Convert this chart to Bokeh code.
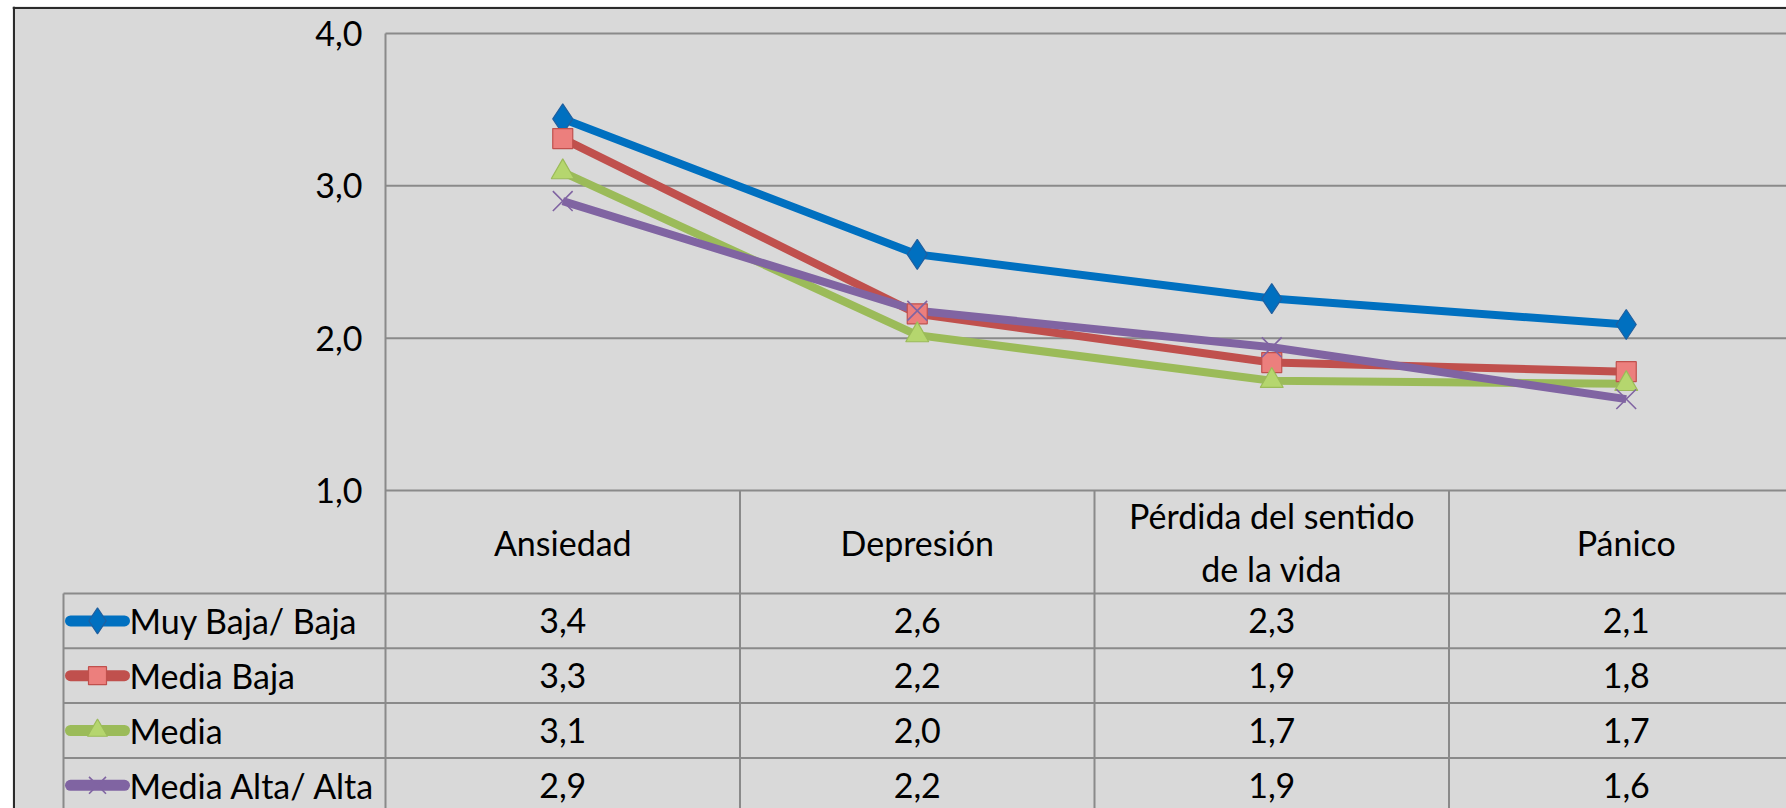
from bokeh.plotting import figure
from bokeh.models import Span
from bokeh.core.properties import value
from bokeh.embed import file_html
from bokeh.resources import INLINE

# ---------------- data ----------------
categories = ["Ansiedad", "Depresión", "Pérdida del sentido\nde la vida", "Pánico"]
series_names = ["Muy Baja/ Baja", "Media Baja", "Media", "Media Alta/ Alta"]
muy_baja_baja = [3.44, 2.55, 2.26, 2.09]
media_baja = [3.31, 2.16, 1.84, 1.78]
media = [3.09, 2.02, 1.72, 1.70]
media_alta_alta = [2.90, 2.18, 1.94, 1.60]
table_muy_baja_baja = ["3,4", "2,6", "2,3", "2,1"]
table_media_baja = ["3,3", "2,2", "1,9", "1,8"]
table_media = ["3,1", "2,0", "1,7", "1,7"]
table_media_alta_alta = ["2,9", "2,2", "1,9", "1,6"]
y_ticks = [1, 2, 3, 4]
y_tick_labels = ["1,0", "2,0", "3,0", "4,0"]

series_values = [muy_baja_baja, media_baja, media, media_alta_alta]
series_table = [table_muy_baja_baja, table_media_baja, table_media, table_media_alta_alta]

# ---------------- styles ----------------
line_colors = ["#0070C0", "#C0504D", "#9BBB59", "#8064A2"]
markers = ["diamond", "square", "triangle", "x"]
marker_fill = ["#0070C0", "#EC7F7D", "#B5D66E", "#8064A2"]
marker_line = ["#1F5F9F", "#C0504D", "#9BBB59", "#8064A2"]
marker_size = [30, 20, 23, 28]
legend_marker_size = [26, 18, 20, 24]
FONT = value("Lato")
FS = "34px"

# ---------------- layout (pixels on canvas) ----------------
W, H = 1786, 808
LEFT_PAD = 12
TOP_PAD = 6
PX0 = 385.0      # canvas x of plot-area left edge
COLW = 354.5     # width of one category column
PY1 = 490.0      # canvas y of value 1.0
UNIT = 152.33    # pixels per value unit


def xd(px):
    return (px - PX0) / COLW


def yd(py):
    return 1 - (py - PY1) / UNIT


x_start, x_end = xd(LEFT_PAD), xd(W)
y_start, y_end = yd(H), yd(TOP_PAD)

p = figure(width=W, height=H, output_backend="svg", toolbar_location=None,
           x_axis_type=None, y_axis_type=None,
           x_range=(x_start, x_end), y_range=(y_start, y_end),
           min_border_left=LEFT_PAD, min_border_right=0, min_border_top=TOP_PAD,
           min_border_bottom=0, outline_line_color=None,
           background_fill_color="#D9D9D9", border_fill_color="white")

GRID = "#8A8A8A"
ncat = len(categories)
xs = [i + 0.5 for i in range(ncat)]

# horizontal gridlines (from ticks)
p.segment(x0=[0] * len(y_ticks), x1=[x_end] * len(y_ticks), y0=y_ticks, y1=y_ticks,
          line_color=GRID, line_width=2)
# vertical plot left line through table
p.segment(x0=[0], x1=[0], y0=[max(y_ticks)], y1=[y_start], line_color=GRID, line_width=2)
# category column boundaries in the table
p.segment(x0=list(range(1, ncat + 1)), x1=list(range(1, ncat + 1)),
          y0=[min(y_ticks)] * ncat, y1=[y_start] * ncat, line_color=GRID, line_width=2)

# table rows
HEADER_BOTTOM = 593.0
ROWH = 54.8
LEG_LEFT = xd(63)
row_bounds = [yd(HEADER_BOTTOM + ROWH * i) for i in range(len(series_names) + 1)]
p.segment(x0=[LEG_LEFT] * len(row_bounds), x1=[x_end] * len(row_bounds),
          y0=row_bounds, y1=row_bounds, line_color=GRID, line_width=2)
p.segment(x0=[LEG_LEFT], x1=[LEG_LEFT], y0=[row_bounds[0]], y1=[y_start],
          line_color=GRID, line_width=2)

# outer chart border (left and top; right/bottom are cut off)
p.add_layout(Span(location=xd(13.5), dimension="height", line_color="#2B2B2B", line_width=2))
p.add_layout(Span(location=yd(7.5), dimension="width", line_color="#2B2B2B", line_width=2))

# y tick labels
p.text(x=[xd(362)] * len(y_ticks), y=y_ticks, text=y_tick_labels, text_font=FONT,
       text_font_size=FS, text_align="right", text_baseline="middle", text_color="#000000")

# category labels in header row
header_mid = yd((PY1 + HEADER_BOTTOM) / 2)
p.text(x=xs, y=[header_mid] * ncat, text=categories, text_font=FONT, text_font_size=FS,
       text_align="center", text_baseline="middle", text_color="#000000",
       text_line_height=1.3)

# series lines and markers
for vals, lc in zip(series_values, line_colors):
    p.line(xs, vals, line_color=lc, line_width=8, line_join="round")
for vals, mk, mf, ml, ms in zip(series_values, markers, marker_fill, marker_line, marker_size):
    p.scatter(xs, vals, marker=mk, size=ms, fill_color=mf, line_color=ml,
              line_width=1.6 if mk == "x" else 1.2)

# table rows: legend key + name + values
for i, (name, tab, lc, mk, mf, ml, ms) in enumerate(zip(series_names, series_table,
                                                       line_colors, markers, marker_fill,
                                                       marker_line, legend_marker_size)):
    ymid = (row_bounds[i] + row_bounds[i + 1]) / 2
    p.segment(x0=[xd(70)], x1=[xd(124)], y0=[ymid], y1=[ymid], line_color=lc,
              line_width=11, line_cap="round")
    p.scatter([xd(97)], [ymid], marker=mk, size=ms, fill_color=mf, line_color=ml,
              line_width=1.6 if mk == "x" else 1.2)
    p.text(x=[xd(129)], y=[ymid], text=[name], text_font=FONT, text_font_size=FS,
           text_align="left", text_baseline="middle", text_color="#000000")
    p.text(x=xs, y=[ymid] * ncat, text=tab, text_font=FONT, text_font_size=FS,
           text_align="center", text_baseline="middle", text_color="#000000")

open("out.html", "w").write(file_html(p, INLINE))
